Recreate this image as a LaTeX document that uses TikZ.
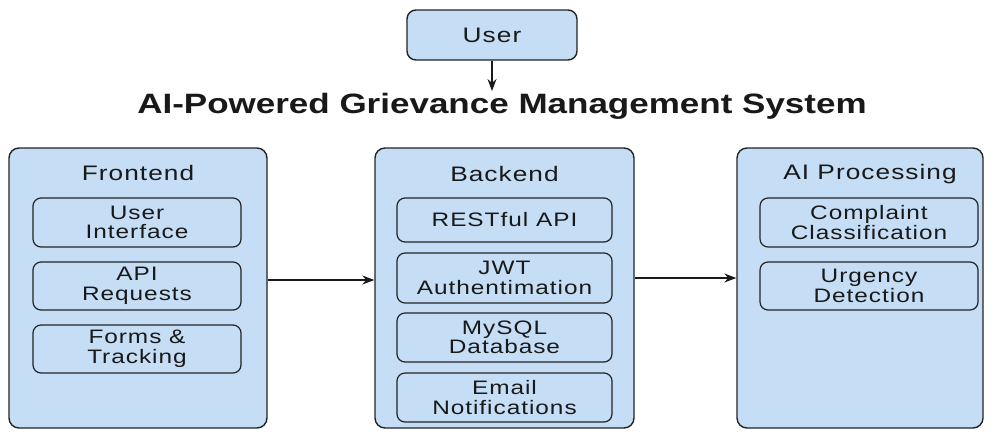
\documentclass[tikz,border=0pt]{standalone}
\usepackage{fontspec}
\setmainfont{Liberation Sans}[FakeStretch=1.25,LetterSpace=5]
\newfontfamily\titlefont{Liberation Sans}[FakeStretch=1.25,LetterSpace=0]
\usetikzlibrary{arrows.meta}
\definecolor{boxfill}{RGB}{198,222,245}
\definecolor{boxline}{RGB}{35,35,35}
\definecolor{txt}{RGB}{25,25,25}
\begin{document}
\begin{tikzpicture}[x=1pt,y=-1pt,
  outerbox/.style={draw=boxline,fill=boxfill,line width=1.4pt,rounded corners=10pt,inner sep=0pt},
  innerbox/.style={draw=boxline,fill=boxfill,line width=1.2pt,rounded corners=8pt,inner sep=0pt,align=center,
    font=\fontsize{19.5}{19.5}\selectfont,text=txt},
  boxtitle/.style={inner sep=0pt,font=\fontsize{21}{23}\selectfont,text=txt},
  arr/.style={-{Stealth[length=12pt,width=9pt]},line width=1.3pt,draw=txt}]
\useasboundingbox (0,0) rectangle (992,432);
\node[outerbox,minimum width=170pt,minimum height=50pt,rounded corners=9pt,font=\fontsize{21}{23}\selectfont,text=txt] (user) at (492,35) {User};
\node[inner sep=0pt,font=\titlefont\bfseries\fontsize{28}{30}\selectfont,text=txt] (title) at (502,106) {AI-Powered Grievance Management System};
\coordinate (titletop) at (492,91);
\draw[arr] (user.south) -- (titletop);

\node[outerbox,minimum width=258pt,minimum height=280pt] (front) at (138,288) {};
\node[outerbox,minimum width=259pt,minimum height=280pt] (back) at (504.5,288) {};
\node[outerbox,minimum width=246pt,minimum height=280pt] (ai) at (860,288) {};

\node[boxtitle] (fronttitle) at (138,173) {Frontend};
\node[boxtitle] (backtitle) at (504.5,174) {Backend};
\node[boxtitle] (aititle) at (870,174) {AI Processing};

\node[innerbox,minimum width=208pt,minimum height=49pt] (ui) at (137,222.5) {User\\Interface};
\node[innerbox,minimum width=208pt,minimum height=48pt] (api) at (137,286) {API\\Requests};
\node[innerbox,minimum width=208pt,minimum height=48pt] (forms) at (137,349) {Forms \&\\Tracking};

\node[innerbox,minimum width=215pt,minimum height=44pt] (rest) at (504.5,220) {RESTful API};
\node[innerbox,minimum width=215pt,minimum height=50pt] (jwt) at (504.5,278) {JWT\\Authentimation};
\node[innerbox,minimum width=215pt,minimum height=49pt] (mysql) at (504.5,337.5) {MySQL\\Database};
\node[innerbox,minimum width=215pt,minimum height=49pt] (email) at (504.5,397.5) {Email\\Notifications};

\node[innerbox,minimum width=218pt,minimum height=49pt] (cc) at (869,222.5) {Complaint\\Classification};
\node[innerbox,minimum width=218pt,minimum height=48pt] (ud) at (869,286) {Urgency\\Detection};

\draw[arr] ([yshift=8pt]front.east) -- ([yshift=8pt]back.west);
\draw[arr] ([yshift=10pt]back.east) -- ([yshift=10pt]ai.west);
\end{tikzpicture}
\end{document}
